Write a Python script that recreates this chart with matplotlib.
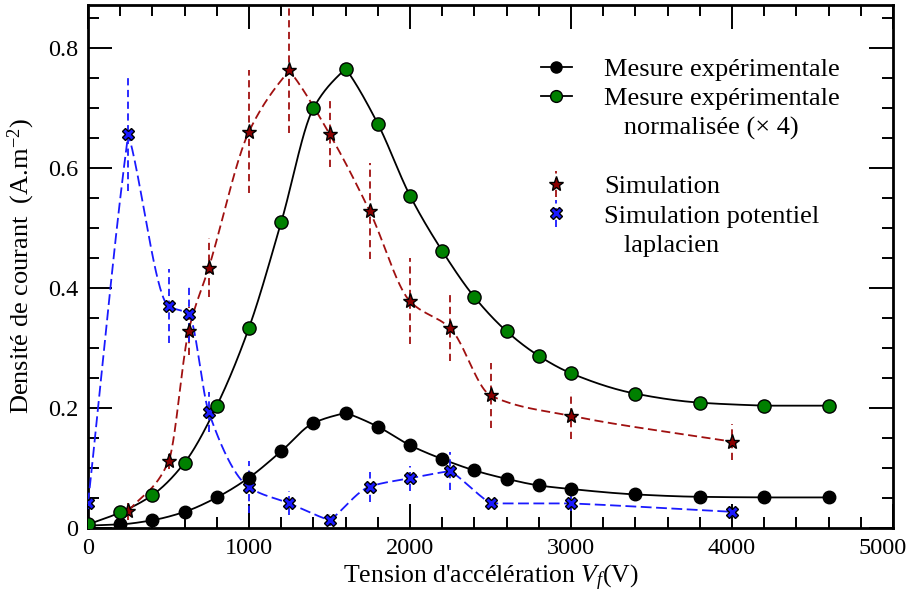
import numpy as np
import matplotlib
matplotlib.use('Agg')
import matplotlib.pyplot as plt
import matplotlib.transforms as mtransforms
from matplotlib.lines import Line2D
from matplotlib.ticker import MultipleLocator

plt.rcParams['font.family'] = ['Liberation Serif', 'DejaVu Serif']
plt.rcParams['mathtext.fontset'] = 'custom'
plt.rcParams['mathtext.rm'] = 'Liberation Serif'
plt.rcParams['mathtext.it'] = 'Liberation Serif:italic'

# Mesures expérimentales
v_mes = [0, 200, 400, 600, 800, 1000, 1200, 1400, 1600, 1800, 2000,
         2200, 2400, 2600, 2800, 3000, 3400, 3800, 4200, 4600]
j_mes = [0.004, 0.006, 0.013, 0.027, 0.051, 0.084, 0.128, 0.175, 0.192, 0.169, 0.138,
         0.115, 0.096, 0.082, 0.071, 0.065, 0.056, 0.052, 0.051, 0.051]
j_norm = [0.006, 0.026, 0.055, 0.109, 0.204, 0.334, 0.510, 0.700, 0.766, 0.674, 0.554,
          0.462, 0.385, 0.328, 0.287, 0.258, 0.224, 0.209, 0.204, 0.204]

# Simulation
v_sim = [250, 500, 625, 750, 1000, 1250, 1500, 1750, 2000, 2250, 2500, 3000, 4000]
j_sim = [0.028, 0.111, 0.329, 0.434, 0.661, 0.763, 0.657, 0.528, 0.378, 0.333, 0.221, 0.187, 0.144]
e_sim = [0.014, 0.013, 0.040, 0.049, 0.102, 0.105, 0.055, 0.080, 0.072, 0.055, 0.054, 0.039, 0.030]

# Simulation potentiel laplacien
v_lap = [0, 250, 500, 625, 750, 1000, 1250, 1500, 1750, 2000, 2250, 2500, 3000, 4000]
j_lap = [0.041, 0.657, 0.370, 0.357, 0.193, 0.068, 0.041, 0.013, 0.069, 0.083, 0.095, 0.041, 0.041, 0.027]
e_lap = [0.010, 0.095, 0.062, 0.047, 0.033, 0.043, 0.020, 0.010, 0.025, 0.021, 0.032, 0.006, 0.012, 0.008]

x_ticks = [0, 1000, 2000, 3000, 4000, 5000]
y_ticks = [0, 0.2, 0.4, 0.6, 0.8]
y_ticklabels = ['0', '0.2', '0.4', '0.6', '0.8']


def smooth(x, y, n=40):
    # lissage Hermite : lisse dans les parties monotones, angle vif aux extrema
    x = np.asarray(x, float)
    y = np.asarray(y, float)
    h = np.diff(x)
    d = np.diff(y) / h
    m_in = np.zeros_like(y)
    m_out = np.zeros_like(y)
    m_out[0] = d[0]
    m_in[-1] = d[-1]
    for k in range(1, len(x) - 1):
        if d[k - 1] * d[k] > 0:
            w1 = 2 * h[k] + h[k - 1]
            w2 = h[k] + 2 * h[k - 1]
            m = (w1 + w2) / (w1 / d[k - 1] + w2 / d[k])
            m_in[k] = m_out[k] = m
        else:
            m_in[k] = 0.8 * d[k - 1]
            m_out[k] = 0.8 * d[k]
    xs_all, ys_all = [], []
    for k in range(len(x) - 1):
        t = np.linspace(0, 1, n)
        h00 = 2 * t**3 - 3 * t**2 + 1
        h10 = t**3 - 2 * t**2 + t
        h01 = -2 * t**3 + 3 * t**2
        h11 = t**3 - t**2
        xs_all.append(x[k] + t * h[k])
        ys_all.append(h00 * y[k] + h10 * h[k] * m_out[k] + h01 * y[k + 1] + h11 * h[k] * m_in[k + 1])
    return np.concatenate(xs_all), np.concatenate(ys_all)


red = '#a01010'
blue = '#1a1aff'
green = '#008000'

fig = plt.figure(figsize=(9.15, 6.04), dpi=100)
ax = fig.add_axes([0.0962, 0.1258, 0.8798, 0.8659])

# courbes
xs, ys = smooth(v_mes, j_mes)
ax.plot(xs, ys, color='black', lw=1.3, zorder=3)
xs, ys = smooth(v_mes, j_norm)
ax.plot(xs, ys, color='black', lw=1.3, zorder=3)
xs, ys = smooth(v_sim, j_sim)
ax.plot(xs, ys, color=red, lw=1.3, dashes=(5, 2.5), zorder=3)
xs, ys = smooth(v_lap, j_lap)
ax.plot(xs, ys, color=blue, lw=1.3, dashes=(6, 2.5), zorder=3)

# barres d'erreur
eb1 = ax.errorbar(v_sim, j_sim, yerr=e_sim, fmt='*', ms=11, mfc='#8b0000', mec='black',
                  mew=1.0, ecolor=red, elinewidth=1.3, capsize=0, zorder=5)
eb1[2][0].set_linestyle((0, (4, 2.5)))
eb2 = ax.errorbar(v_lap, j_lap, yerr=e_lap, fmt='X', ms=9, mfc=blue, mec='black',
                  mew=1.0, ecolor=blue, elinewidth=1.3, capsize=0, zorder=5)
eb2[2][0].set_linestyle((0, (4, 2.5)))

# points de mesure
ax.plot(v_mes, j_mes, 'o', ms=9, mfc='black', mec='black', zorder=6)
ax.plot(v_mes, j_norm, 'o', ms=9.5, mfc=green, mec='black', mew=1.0, zorder=6)

ax.set_xlim(0, 5000)
ax.set_ylim(0, 0.872)
ax.set_xticks(x_ticks)
ax.set_xticklabels([str(v) for v in x_ticks])
ax.xaxis.set_minor_locator(MultipleLocator(200))
ax.yaxis.set_minor_locator(MultipleLocator(0.05))
ax.set_yticks(y_ticks)
ax.set_yticklabels(y_ticklabels)
ax.tick_params(which='both', direction='in', top=True, right=True, labelsize=17.5, width=1.4)
ax.tick_params(which='major', length=17, pad=7)
ax.tick_params(which='minor', length=8)
for s in ax.spines.values():
    s.set_linewidth(2)

ax.set_xlabel("Tension d'accélération $V_f$(V)", fontsize=18.5, labelpad=3)
ax.set_ylabel("Densité de courant  (A.m$^{-2}$)", fontsize=19, labelpad=8)

blank = Line2D([], [], linestyle='none')
h_mes = Line2D([], [], color='black', lw=1.3, marker='o', ms=8, mfc='black', mec='black')
h_norm = Line2D([], [], color='black', lw=1.3, marker='o', ms=8.5, mfc=green, mec='black')
handles = [h_mes, h_norm, blank, blank, eb1, eb2, blank]
labels = ['Mesure expérimentale', 'Mesure expérimentale', '   normalisée (× 4)', ' ',
          'Simulation', 'Simulation potentiel', '   laplacien']
ax.legend(handles, labels, loc='upper left', bbox_to_anchor=(0.549, 0.92), frameon=False,
          fontsize=19, handlelength=1.2, handletextpad=1.2, labelspacing=0.22,
          borderaxespad=0)

# décale l'étiquette 5000 vers la gauche pour qu'elle reste dans la figure
fig.canvas.draw()
for lab in ax.get_xticklabels():
    if lab.get_text() == '5000':
        lab.set_transform(lab.get_transform()
                          + mtransforms.ScaledTranslation(-0.1, 0, fig.dpi_scale_trans))

fig.savefig('out.png', dpi=100)
